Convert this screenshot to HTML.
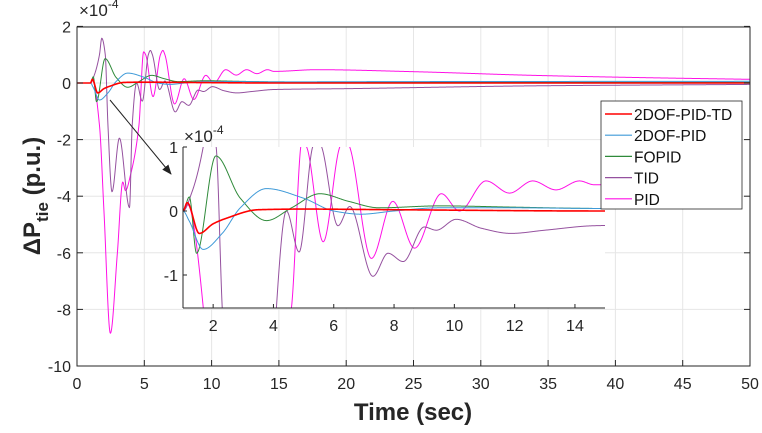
<!DOCTYPE html>
<html><head><meta charset="utf-8"><style>
html,body{margin:0;padding:0;background:#fff;width:762px;height:433px;overflow:hidden;position:relative;}
svg{display:block;position:absolute;left:0;top:0;width:762px;height:433px;overflow:hidden;font-family:"Liberation Sans",Arial,sans-serif;}
</style></head><body>
<svg id="chart" width="762" height="433" viewBox="0 0 762 433" xmlns="http://www.w3.org/2000/svg">
<defs>
<clipPath id="mainClip"><rect x="77" y="27" width="673" height="339"/></clipPath>
<clipPath id="insetClip"><rect x="183" y="147" width="422" height="161"/></clipPath>
<marker id="arrowHead" markerWidth="10" markerHeight="8" refX="9" refY="4" orient="auto" markerUnits="userSpaceOnUse"><path d="M0,0 L10,4 L0,8 Z" fill="#222"/></marker>
</defs>
<rect x="0" y="0" width="762" height="433" fill="#fff"/>
<g id="mainGrid"></g>
<g id="mainSeries" clip-path="url(#mainClip)"></g>
<g id="mainAxes"></g>
<text x="79" y="16" font-size="17" fill="#262626">×10<tspan dy="-8" font-size="12">-4</tspan></text>
<text x="413" y="420" font-size="24" font-weight="bold" text-anchor="middle" fill="#262626">Time (sec)</text>
<text transform="translate(40,196) rotate(-90)" font-size="24" font-weight="bold" text-anchor="middle" fill="#262626">ΔP<tspan dy="8" font-size="17">tie</tspan><tspan dy="-8"> (p.u.)</tspan></text>
<line x1="110" y1="100" x2="171" y2="174" stroke="#222" stroke-width="1" marker-end="url(#arrowHead)"/>
<rect x="183" y="147" width="422" height="161" fill="#fff"/>
<g id="insetSeries" clip-path="url(#insetClip)"></g>
<g id="insetAxes"></g>
<text x="184" y="142" font-size="17" fill="#262626">×10<tspan dy="-8" font-size="12">-4</tspan></text>
<g id="legend">
<rect x="601" y="101" width="141" height="108" fill="#fff" stroke="#262626" stroke-width="0.8"/>
</g>
</svg>
<script>
const seriesNames = ["2DOF-PID-TD","2DOF-PID","FOPID","TID","PID"];
const seriesColors = ["#ff0000","#3f9ad8","#2f8a3a","#95519f","#ff10e6"];
const tRed = [0,1,1.14,1.54,2.0,2.4,3.5,5,8,15,50];
const vRed = [0,0,0.13,-0.35,-0.2,-0.12,0.02,0.03,0.02,0.0,0.0];
const tBlue = [0,1,1.2,1.67,2.3,2.9,3.77,5,6.0,6.9,8,9.5,12,14.6,25,50];
const vBlue = [0,0,-0.15,-0.6,-0.35,0.05,0.35,0.2,0.0,-0.05,0.0,0.05,0.05,0.04,0.05,0.06];
const tGreen = [0,1,1.21,1.45,2.09,2.9,3.77,4.6,5.54,6.5,7.5,9.5,12,14.6,20,30,50];
const vGreen = [0,0,0.22,-0.66,0.86,0.2,-0.15,0.05,0.27,0.15,0.05,0.08,0.06,0.04,0.03,0.02,0.02];
const tTID = [0,1,1.3,1.67,1.84,2.1,2.3,2.6,3.15,3.9,4.1,4.43,4.85,5.3,5.45,5.6,6.14,6.53,7.3,7.8,8.3,9.0,9.4,10.06,10.9,11.88,13,14.64,20,34,50];
const vTID = [0,0,0.3,1.0,1.58,1.0,-1.5,-3.84,-1.95,-4.4,-1.5,0,-0.64,1.0,1.15,1.0,-0.23,0.07,-1.02,-0.66,-0.79,-0.25,-0.3,-0.13,-0.27,-0.35,-0.3,-0.23,-0.2,-0.1,-0.05];
const tPID = [0,1,1.15,1.67,2.0,2.48,3.0,3.4,3.6,4.0,4.6,4.95,5.1,5.65,6.2,6.38,6.53,7.25,7.96,8.68,9.57,10.17,11.05,11.83,12.6,13.37,14.15,14.64,17.8,25,33.9,42,50];
const vPID = [0,0,0.1,-1.5,-4.5,-8.84,-6,-3.5,-3.8,-3.2,-1.5,1.1,1.0,-0.48,1.0,1.15,1.0,-0.74,0.15,-0.58,0.27,0.0,0.47,0.28,0.47,0.33,0.47,0.41,0.47,0.4,0.27,0.19,0.13];
const mainXTicks = [0,5,10,15,20,25,30,35,40,45,50];
const mainYTicks = [2,0,-2,-4,-6,-8,-10];
const insetXTicks = [2,4,6,8,10,12,14];
const insetYTicks = [1,0,-1];

const NS = "http://www.w3.org/2000/svg";
function mk(tag, attrs, parent){const e=document.createElementNS(NS,tag);for(const k in attrs)e.setAttribute(k,attrs[k]);parent.appendChild(e);return e;}
const mx = t => 77 + (t-0)/50*673;
const my = v => 83 - Math.max(-10.2, Math.min(2.2, v))*28.3;
const ix = t => 183 + (t-1)*30.15;
const iy = v => 211 - Math.max(-1.6, Math.min(1.1, v))*64;

function monotone(ts, vs){
  const n=ts.length, d=[], m=new Array(n).fill(0);
  for(let i=0;i<n-1;i++) d.push((vs[i+1]-vs[i])/(ts[i+1]-ts[i]));
  m[0]=d[0]; m[n-1]=d[n-2];
  for(let i=1;i<n-1;i++){ if(d[i-1]*d[i]<=0) m[i]=0; else { const h0=ts[i]-ts[i-1],h1=ts[i+1]-ts[i]; const w1=2*h1+h0,w2=h1+2*h0; m[i]=(w1+w2)/(w1/d[i-1]+w2/d[i]); } }
  return function(t){
    let i=0; while(i<n-2 && t>ts[i+1]) i++;
    const h=ts[i+1]-ts[i], s=(t-ts[i])/h, s2=s*s, s3=s2*s;
    return (2*s3-3*s2+1)*vs[i]+(s3-2*s2+s)*h*m[i]+(-2*s3+3*s2)*vs[i+1]+(s3-s2)*h*m[i+1];
  };
}
const allSeries = [[tRed,vRed],[tBlue,vBlue],[tGreen,vGreen],[tTID,vTID],[tPID,vPID]];
function pathFor(f, t0, t1, step, X, Y){
  let d=""; for(let t=t0;t<=t1+1e-9;t+=step){ d += (d?"L":"M")+X(t).toFixed(2)+","+Y(f(t)).toFixed(2); } return d;
}
const grid=document.getElementById('mainGrid'), axes=document.getElementById('mainAxes');
mainXTicks.forEach(t=>{
  const g=mk('line',{x1:mx(t),x2:mx(t),y1:27,y2:366,stroke:'#e6e6e6','stroke-width':1},grid);
  
  
  const tk=mk('line',{x1:mx(t),x2:mx(t),y1:366,y2:360,stroke:'#262626'},axes);
  
  
  const lb=mk('text',{x:mx(t),y:389,'font-size':16,'text-anchor':'middle',fill:'#262626'},axes); lb.textContent=t;
  
  
});
mainYTicks.forEach(v=>{
  const g=mk('line',{x1:77,x2:750,y1:my(v),y2:my(v),stroke:'#e6e6e6','stroke-width':1},grid);
  
  
  const tk=mk('line',{x1:77,x2:83,y1:my(v),y2:my(v),stroke:'#262626'},axes);
  
  
  const tk2=mk('line',{x1:744,x2:750,y1:my(v),y2:my(v),stroke:'#262626'},axes);
  
  
  const lb=mk('text',{x:71,y:my(v)+6,'font-size':16,'text-anchor':'end',fill:'#262626'},axes); lb.textContent=v;
  
  
});
const box=mk('rect',{x:77,y:27,width:673,height:339,fill:'none',stroke:'#262626','stroke-width':1},axes);



const ms=document.getElementById('mainSeries'), is=document.getElementById('insetSeries');
const drawOrder=[4,3,2,1,0];
drawOrder.forEach(k=>{
  const f=monotone(allSeries[k][0],allSeries[k][1]);
  const p=mk('path',{d:pathFor(f,0,50,0.02,mx,my),fill:'none',stroke:seriesColors[k],'stroke-width':k===0?1.6:1},ms);
  
  
  const q=mk('path',{d:pathFor(f,1,15,0.01,ix,iy),fill:'none',stroke:seriesColors[k],'stroke-width':k===0?1.6:1},is);
  
  
});
const ia=document.getElementById('insetAxes');
const l1=mk('line',{x1:183,x2:183,y1:147,y2:308,stroke:'#262626'},ia);


const l2=mk('line',{x1:183,x2:605,y1:308,y2:308,stroke:'#262626'},ia);


insetXTicks.forEach(t=>{
  const tk=mk('line',{x1:ix(t),x2:ix(t),y1:308,y2:304,stroke:'#262626'},ia);
  
  
  const lb=mk('text',{x:ix(t),y:331,'font-size':16,'text-anchor':'middle',fill:'#262626'},ia); lb.textContent=t;
  
  
});
insetYTicks.forEach(v=>{
  const tk=mk('line',{x1:183,x2:187,y1:iy(v),y2:iy(v),stroke:'#262626'},ia);
  
  
  const lb=mk('text',{x:178,y:iy(v)+6,'font-size':16,'text-anchor':'end',fill:'#262626'},ia); lb.textContent=v;
  
  
});
const lg=document.getElementById('legend');
seriesNames.forEach((nm,k)=>{
  const y=114+k*21.2;
  const ln=mk('line',{x1:605,x2:632,y1:y,y2:y,stroke:seriesColors[k],'stroke-width':k===0?1.6:1.2},lg);
  
  
  const tx=mk('text',{x:634,y:y+6,'font-size':15.5,fill:'#111'},lg); tx.textContent=nm;
  
  
});
</script>
</body></html>
